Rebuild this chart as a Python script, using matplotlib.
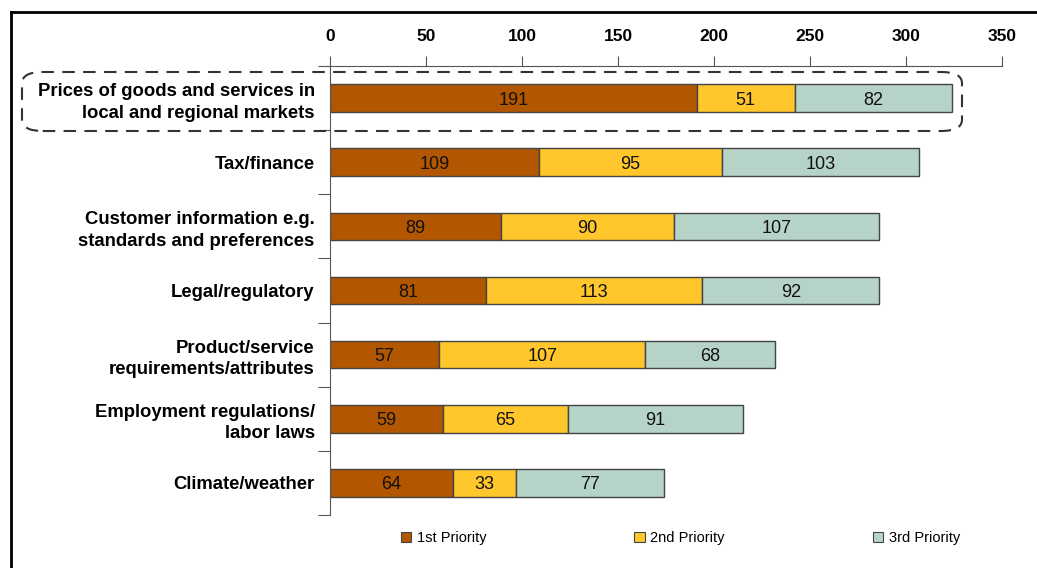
import matplotlib.pyplot as plt
from matplotlib.patches import FancyBboxPatch, Patch
from matplotlib.lines import Line2D
import numpy as np

plt.rcParams['font.family'] = ['Liberation Sans', 'DejaVu Sans']

categories = [
    "Prices of goods and services in\nlocal and regional markets",
    "Tax/finance",
    "Customer information e.g.\nstandards and preferences",
    "Legal/regulatory",
    "Product/service\nrequirements/attributes",
    "Employment regulations/\nlabor laws",
    "Climate/weather",
]
first = [191, 109, 89, 81, 57, 59, 64]
second = [51, 95, 90, 113, 107, 65, 33]
third = [82, 103, 107, 92, 68, 91, 77]
series_names = ["1st Priority", "2nd Priority", "3rd Priority"]
colors = ["#B35600", "#FFC72C", "#B5D3C6"]

fig = plt.figure(figsize=(10.37, 5.68), dpi=100)
ax = fig.add_axes([330/1037, 1 - 515/568, 672/1037, 449/568])

y = np.arange(len(categories))
left = np.zeros(len(categories))
for vals, name, col in zip([first, second, third], series_names, colors):
    bars = ax.barh(y, vals, left=left, height=0.43, color=col,
                   edgecolor="#444444", linewidth=1.0, label=name)
    for b, v in zip(bars, vals):
        ax.text(b.get_x() + b.get_width() / 2, b.get_y() + b.get_height() / 2,
                str(v), ha="center", va="center_baseline", fontsize=13, color="#111111")
    left = left + np.array(vals)

ax.set_xlim(0, 350)
ax.set_ylim(len(categories) - 0.5, -0.5)
ax.xaxis.tick_top()
ax.set_xticks(range(0, 351, 50))
ax.tick_params(axis="x", direction="out", length=7, width=0.8, color="#555555",
               labelsize=12.5, pad=9)
for lab in ax.get_xticklabels():
    lab.set_fontweight("bold")

ax.set_yticks(y)
ax.set_yticklabels(categories, fontsize=13.3, fontweight="bold", linespacing=1.35)
ax.set_yticks(np.arange(-0.5, len(categories)), minor=True)
ax.tick_params(axis="y", which="major", length=0, pad=11)
ax.tick_params(axis="y", which="minor", length=9, width=0.8, color="#555555")
for lab in ax.get_yticklabels():
    lab.set_multialignment("right")

for s in ["right", "bottom"]:
    ax.spines[s].set_visible(False)
for s in ["top", "left"]:
    ax.spines[s].set_color("#555555")
    ax.spines[s].set_linewidth(0.8)

# dashed highlight box around the first row
box = FancyBboxPatch((22/1037, 1 - 131/568), 940/1037, 59/568,
                     boxstyle="round,pad=0,rounding_size=0.02",
                     transform=fig.transFigure, fill=False,
                     edgecolor="#333333", linestyle=(0, (6, 4)), linewidth=1.5)
fig.patches.append(box)

# border lines at top and left
fig.add_artist(Line2D([11/1037, 1], [1 - 12/568, 1 - 12/568],
                      transform=fig.transFigure, color="black", lw=2))
fig.add_artist(Line2D([11/1037, 11/1037], [0, 1 - 12/568],
                      transform=fig.transFigure, color="black", lw=2))

handles = [Patch(facecolor=c, edgecolor="#444444", linewidth=0.8) for c in colors]
fig.legend(handles, series_names, loc="center left",
           bbox_to_anchor=(388/1037, 1 - 538/568, 585/1037, 0.0),
           mode="expand", ncol=3, frameon=False, fontsize=10.5,
           handlelength=0.7, handleheight=0.7, handletextpad=0.4)

fig.savefig("out.png", dpi=100)
